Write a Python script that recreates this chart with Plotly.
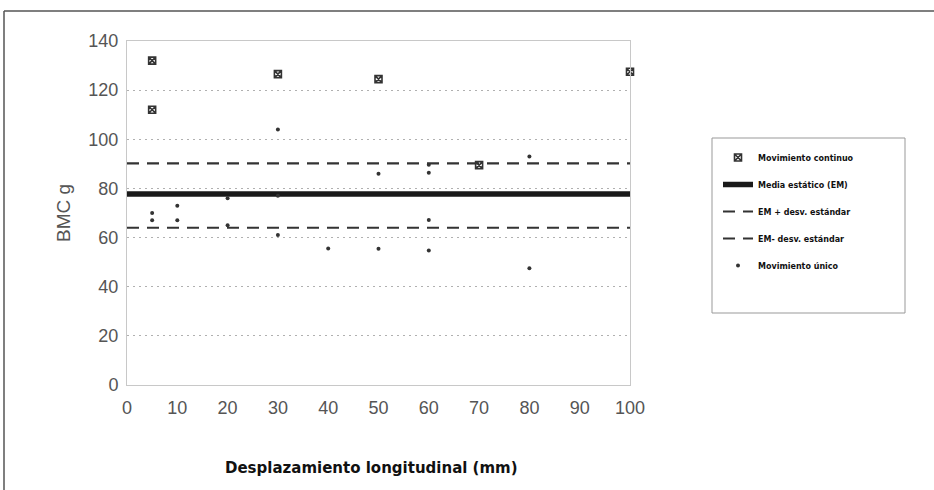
import plotly.graph_objects as go

# Data
cont_x = [5, 5, 30, 50, 70, 100]
cont_y = [132, 112, 126.5, 124.5, 89.5, 127.5]

unico_x = [5, 5, 10, 10, 20, 20, 30, 30, 30, 40, 50, 50, 60, 60, 60, 60, 80, 80]
unico_y = [70, 67, 73, 67, 76, 65, 104, 77, 61, 55.6, 86, 55.5, 89.6, 86.4, 67.2, 54.7, 93, 47.5]

line_x = [0, 100]
mean_em = 77.7
em_plus = 90.2
em_minus = 64.0

x_ticks = [0, 10, 20, 30, 40, 50, 60, 70, 80, 90, 100]
y_ticks = [0, 20, 40, 60, 80, 100, 120, 140]

names = ["Movimiento continuo", "Media estático (EM)", "EM + desv. estándar",
         "EM- desv. estándar", "Movimiento único"]

fig = go.Figure()

fig.add_trace(go.Scatter(x=line_x, y=[mean_em, mean_em], mode="lines", name=names[1],
                         line=dict(color="#1a1a1a", width=5.5), legendrank=2, legendgroup="b"))
fig.add_trace(go.Scatter(x=line_x, y=[em_plus, em_plus], mode="lines", name=names[2],
                         line=dict(color="#333333", width=2.2, dash="12px,8px"), legendrank=3, legendgroup="c"))
fig.add_trace(go.Scatter(x=line_x, y=[em_minus, em_minus], mode="lines", name=names[3],
                         line=dict(color="#333333", width=2.2, dash="12px,8px"), legendrank=4, legendgroup="d"))
fig.add_trace(go.Scatter(x=cont_x, y=cont_y, mode="markers", name=names[0],
                         marker=dict(symbol="square-x-open", size=7, color="#333333", line=dict(width=1.6)),
                         legendrank=1, legendgroup="a", cliponaxis=False))
fig.add_trace(go.Scatter(x=unico_x, y=unico_y, mode="markers", name=names[4],
                         marker=dict(symbol="circle", size=4, color="#333333"),
                         legendrank=5, legendgroup="e"))

W, H = 934, 490
L, R, T, B = 127, 630, 41, 385

fig.update_layout(
    width=W, height=H,
    margin=dict(l=L, r=W - R, t=T, b=H - B),
    paper_bgcolor="white", plot_bgcolor="white",
    showlegend=True,
    legend=dict(
        xref="container", yref="container",
        x=718 / W, y=1 - 143 / H, xanchor="left", yanchor="top",
        font=dict(family="DejaVu Sans", size=8, color="#111111", weight="bold"),
        bgcolor="rgba(0,0,0,0)", borderwidth=0,
        traceorder="grouped", tracegroupgap=8, itemwidth=30,
    ),
    xaxis=dict(
        range=[0, 100], tickvals=x_ticks, showgrid=False, zeroline=False,
        showline=True, linecolor="#c8c8c8", linewidth=1, mirror=True,
        ticks="", ticklabelstandoff=6,
        tickfont=dict(family="Liberation Sans", size=18, color="#555555"),
    ),
    yaxis=dict(
        range=[0, 140], tickvals=y_ticks, showgrid=True, gridcolor="#b0b0b0",
        griddash="2px,4px", gridwidth=1, zeroline=False,
        showline=True, linecolor="#c8c8c8", linewidth=1, mirror=True,
        ticks="", ticklabelstandoff=4,
        tickfont=dict(family="Liberation Sans", size=18, color="#555555"),
        title=dict(text="BMC g", font=dict(family="Liberation Sans", size=19, color="#555555"),
                   standoff=12),
    ),
    annotations=[
        dict(text="<b>Desplazamiento longitudinal (mm)</b>", xref="paper", yref="paper",
             x=(371 - L) / (R - L), y=-(468 - B) / (B - T), xanchor="center", yanchor="middle",
             showarrow=False, font=dict(family="DejaVu Sans", size=15, color="#111111")),
    ],
    shapes=[
        dict(type="line", xref="paper", yref="paper",
             x0=(4 - L) / (R - L), x1=(W - L) / (R - L),
             y0=(B - 11) / (B - T), y1=(B - 11) / (B - T),
             line=dict(color="#555555", width=1.5)),
        dict(type="line", xref="paper", yref="paper",
             x0=(4 - L) / (R - L), x1=(4 - L) / (R - L),
             y0=(B - 11) / (B - T), y1=(B - H) / (B - T),
             line=dict(color="#555555", width=1.5)),
        dict(type="rect", xref="paper", yref="paper",
             x0=(712 - L) / (R - L), x1=(905 - L) / (R - L),
             y0=(B - 138) / (B - T), y1=(B - 313) / (B - T),
             line=dict(color="#999999", width=1)),
    ],
)

fig.write_html("out.html")
